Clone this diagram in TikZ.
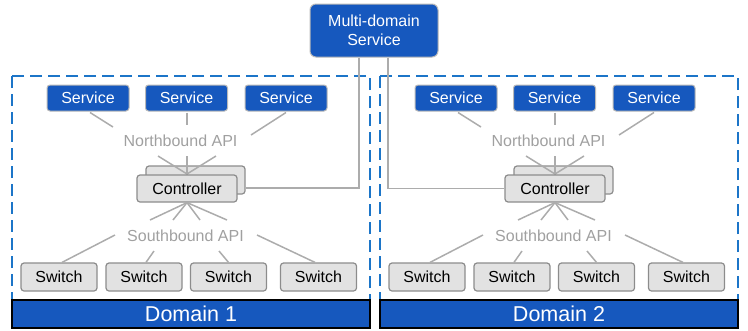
\documentclass[tikz,border=0pt]{standalone}
\usepackage{fontspec}
\setmainfont{Liberation Sans}
\usetikzlibrary{calc}
\definecolor{dblue}{RGB}{22,88,190}
\definecolor{dashblue}{RGB}{28,117,200}
\definecolor{boxgray}{RGB}{226,226,226}
\definecolor{edgegray}{RGB}{140,140,140}
\definecolor{linegray}{RGB}{172,172,172}
\definecolor{labelgray}{RGB}{160,160,160}
\tikzset{
  txt/.style={font=\fontsize{16}{19}\selectfont},
  bluebox/.style={txt, fill=dblue, draw=gray!55, line width=1pt, rounded corners=3pt, text=white,
    minimum width=82pt, minimum height=26pt, inner sep=0pt},
  graybox/.style={txt, fill=boxgray, draw=edgegray, line width=1.2pt, rounded corners=3pt,
    minimum width=76pt, minimum height=28pt, inner sep=0pt},
  ctrlbox/.style={graybox, minimum width=100pt, minimum height=27pt},
  apilabel/.style={txt, text=labelgray, inner sep=0pt},
  link/.style={draw=linegray, line width=1.5pt},
  domainframe/.style={draw=dashblue, line width=1.8pt, dash pattern=on 12pt off 6pt},
  domainbar/.style={fill=dblue, draw=black, line width=1.5pt, text=white,
    font=\fontsize{21.5}{25}\selectfont, inner sep=0pt, minimum width=358pt, minimum height=28pt}
}
\begin{document}
\begin{tikzpicture}[x=1pt,y=-1pt]
\useasboundingbox (0,0) rectangle (748,330);
\node[bluebox, minimum width=128pt, minimum height=53pt, rounded corners=6pt, align=center] (ms) at (374,30.5) {Multi-domain\\Service};
\foreach \d/\dx in {1/0,2/368}{
  \draw[domainframe] ({\dx+12},76) rectangle ({\dx+370},300);
  \node[domainbar] (bar\d) at ({\dx+191},314) {Domain \d};
  \node[bluebox] (s\d a) at ({\dx+88},98) {Service};
  \node[bluebox] (s\d b) at ({\dx+186.5},98) {Service};
  \node[bluebox] (s\d c) at ({\dx+286},98) {Service};
  \node[apilabel] (nb\d) at ({\dx+180.5},141) {Northbound API};
  \node[apilabel] (sb\d) at ({\dx+185.5},236) {Southbound API};
  \node[graybox] (w\d a) at ({\dx+59},277) {Switch};
  \node[graybox] (w\d b) at ({\dx+144},277) {Switch};
  \node[graybox] (w\d c) at ({\dx+228.5},277) {Switch};
  \node[graybox] (w\d d) at ({\dx+318.5},277) {Switch};
  \node[ctrlbox, minimum width=99pt, minimum height=28pt] (c\d b) at ({\dx+195.5},180) {};
  % services to northbound
  \draw[link] ($(s\d a.south)+(2,1)$) -- ($(nb\d.center)+(-67.5,-14)$);
  \draw[link] ($(s\d b.south)+(0.5,1)$) -- ($(nb\d.center)+(6.5,-16)$);
  \draw[link] ($(s\d c.south)+(0,1)$) -- ($(nb\d.center)+(70.5,-6)$);
  % northbound to controller
  \draw[link] ($(nb\d.center)+(-22.5,15)$) -- ($(c\d b.center)+(-8.5,-6)$) -- ++(0,1);
  \draw[link] ($(nb\d.center)+(6.5,15)$) -- ($(c\d b.center)+(-8.5,-6)$);
  \draw[link] ($(nb\d.center)+(35.5,15)$) -- ($(c\d b.center)+(-8.5,-6)$);
  \node[ctrlbox] (c\d f) at ({\dx+187},188.5) {Controller};
  % controller to southbound
  \draw[link] (c\d f.south) -- ($(sb\d.center)+(-35.5,-16)$);
  \draw[link] (c\d f.south) -- ($(sb\d.center)+(-12.5,-16)$);
  \draw[link] (c\d f.south) -- ($(sb\d.center)+(14.5,-16)$);
  \draw[link] (c\d f.south) -- ($(sb\d.center)+(41.5,-16)$);
  % southbound to switches
  \draw[link] ($(sb\d.center)+(-70.5,-1)$) -- ($(w\d a.north)+(3,0)$);
  \draw[link] ($(sb\d.center)+(-31.5,15)$) -- ($(w\d b.north)+(2,0)$);
  \draw[link] ($(sb\d.center)+(33.5,15)$) -- ($(w\d c.north)+(0,0)$);
  \draw[link] ($(sb\d.center)+(71.5,-1)$) -- ($(w\d d.north)+(-3.5,0)$);
}
\draw[link] ($(ms.south)+(-15,0)$) |- ($(c1b.east)+(0,8)$);
\draw[link] ($(ms.south)+(14,0)$) |- (c2f.west);
\end{tikzpicture}
\end{document}
